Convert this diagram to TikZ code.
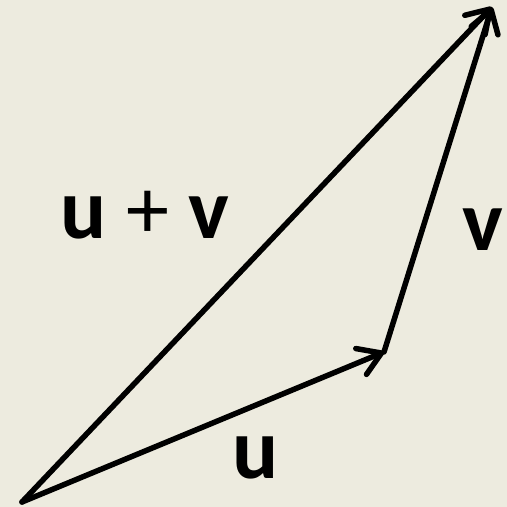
\documentclass[tikz,border=0pt]{standalone}
\usepackage{fontspec}
\setsansfont{Carlito}
\usetikzlibrary{arrows.meta}
\definecolor{paper}{HTML}{EDEBDF}

\begin{document}
\begin{tikzpicture}[x=1pt,y=-1pt,
    vec/.style={line width=5.5pt,line cap=round,-{Straight Barb[length=22pt,width=28pt,line cap=round,line join=round]}},
    lbl/.style={font=\sffamily\bfseries\fontsize{86}{90}\selectfont,inner sep=0pt}]
            % Background
            \fill[paper] (0,0) rectangle (507,507);
            \useasboundingbox (0,0) rectangle (507,507);

            % Points
            \coordinate (O) at (22,502);
            \coordinate (U) at (384,352);
            \coordinate (W) at (492,7);

            % Vectors
            \draw[vec] (O) -- (U);
            \draw[vec] (U) -- (W);
            \draw[vec] (O) -- (W);

            % Labels
            \node[lbl] (lu) at (256,458) {u};
            \node[lbl] (lv) at (483,230) {v};
            \node[lbl] (luv) at (145,215) {u {\mdseries+} v};
        \end{tikzpicture}
\end{document}
